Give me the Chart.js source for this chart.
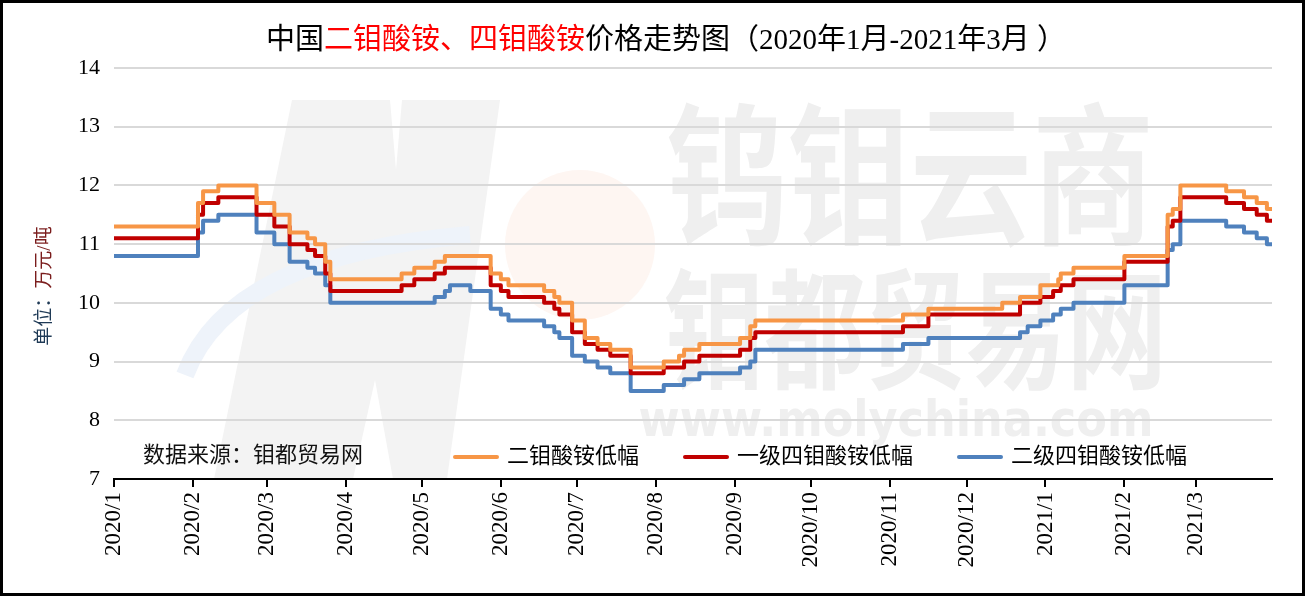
<!DOCTYPE html>
<html>
<head>
<meta charset="utf-8">
<script src="https://cdn.jsdelivr.net/npm/chart.js@4.4.1/dist/chart.umd.min.js"></script>
<style>
  html, body { margin: 0; padding: 0; background: #fff; overflow: hidden; }
  #wrap { width: 1305px; height: 596px; position: relative; }
</style>
</head>
<body>
<div id="wrap"><canvas id="chart"></canvas></div>
<script>
// x axis: month ticks
const monthLabels = ['2020/1', '2020/2', '2020/3', '2020/4', '2020/5', '2020/6', '2020/7', '2020/8',
    '2020/9', '2020/10', '2020/11', '2020/12', '2021/1', '2021/2', '2021/3'];
const monthStarts = ['2020-01-01', '2020-02-01', '2020-03-01', '2020-04-01', '2020-05-01', '2020-06-01',
    '2020-07-01', '2020-08-01', '2020-09-01', '2020-10-01', '2020-11-01', '2020-12-01',
    '2021-01-01', '2021-02-01', '2021-03-01'];
const axisEnd = '2021-03-31';
const yTicks = [7, 8, 9, 10, 11, 12, 13, 14];

// 二钼酸铵低幅 (price change dates and new value, 万元/吨)
const dimolyDates = ['2020-01-01', '2020-02-03', '2020-02-05', '2020-02-11', '2020-02-26', '2020-03-04',
    '2020-03-10', '2020-03-17', '2020-03-20', '2020-03-24', '2020-03-26', '2020-04-23', '2020-04-28',
    '2020-05-06', '2020-05-10', '2020-05-28', '2020-06-01', '2020-06-04', '2020-06-18', '2020-06-22',
    '2020-06-24', '2020-06-29', '2020-07-04', '2020-07-09', '2020-07-14', '2020-07-22', '2020-08-04',
    '2020-08-10', '2020-08-12', '2020-08-18', '2020-09-03', '2020-09-07', '2020-09-09', '2020-11-06',
    '2020-11-16', '2020-12-15', '2020-12-22', '2020-12-30', '2021-01-06', '2021-01-07', '2021-01-12',
    '2021-02-01', '2021-02-18', '2021-02-20', '2021-02-23', '2021-03-13', '2021-03-20', '2021-03-25',
    '2021-03-29', '2021-03-31'];
const dimolyValues = [11.3, 11.7, 11.9, 12.0, 11.7, 11.5,
    11.2, 11.1, 11.0, 10.7, 10.4, 10.5, 10.6,
    10.7, 10.8, 10.5, 10.4, 10.3, 10.2, 10.1,
    10.0, 9.7, 9.4, 9.3, 9.2, 8.9, 9.0,
    9.1, 9.2, 9.3, 9.4, 9.6, 9.7, 9.8,
    9.9, 10.0, 10.1, 10.3, 10.4, 10.5, 10.6,
    10.8, 11.5, 11.6, 12.0, 11.9, 11.8, 11.7,
    11.6, 11.6];

// 一级四钼酸铵低幅
const tetraADates = ['2020-01-01', '2020-02-03', '2020-02-05', '2020-02-11', '2020-02-26', '2020-03-04',
    '2020-03-10', '2020-03-17', '2020-03-20', '2020-03-24', '2020-03-26', '2020-04-23', '2020-04-28',
    '2020-05-06', '2020-05-10', '2020-05-28', '2020-06-01', '2020-06-04', '2020-06-18', '2020-06-22',
    '2020-06-24', '2020-06-29', '2020-07-04', '2020-07-09', '2020-07-14', '2020-07-22', '2020-08-04',
    '2020-08-12', '2020-08-18', '2020-09-03', '2020-09-07', '2020-09-09', '2020-11-06', '2020-11-16',
    '2020-12-22', '2020-12-30', '2021-01-04', '2021-01-07', '2021-01-12', '2021-02-01', '2021-02-18',
    '2021-02-20', '2021-02-23', '2021-03-13', '2021-03-20', '2021-03-25', '2021-03-29', '2021-03-31'];
const tetraAValues = [11.1, 11.5, 11.7, 11.8, 11.5, 11.3,
    11.0, 10.9, 10.8, 10.5, 10.2, 10.3, 10.4,
    10.5, 10.6, 10.3, 10.2, 10.1, 10.0, 9.9,
    9.8, 9.5, 9.3, 9.2, 9.1, 8.8, 8.9,
    9.0, 9.1, 9.2, 9.4, 9.5, 9.6, 9.8,
    10.0, 10.1, 10.2, 10.3, 10.4, 10.7, 11.3,
    11.4, 11.8, 11.7, 11.6, 11.5, 11.4, 11.4];

// 二级四钼酸铵低幅
const tetraBDates = ['2020-01-01', '2020-02-03', '2020-02-05', '2020-02-11', '2020-02-26', '2020-03-04',
    '2020-03-10', '2020-03-17', '2020-03-20', '2020-03-24', '2020-03-26', '2020-05-06', '2020-05-10',
    '2020-05-12', '2020-05-20', '2020-05-28', '2020-06-01', '2020-06-04', '2020-06-18', '2020-06-22',
    '2020-06-24', '2020-06-29', '2020-07-04', '2020-07-09', '2020-07-14', '2020-07-22', '2020-08-04',
    '2020-08-12', '2020-08-18', '2020-09-03', '2020-09-07', '2020-09-09', '2020-11-06', '2020-11-16',
    '2020-12-22', '2020-12-25', '2020-12-30', '2021-01-04', '2021-01-07', '2021-01-12', '2021-02-01',
    '2021-02-18', '2021-02-20', '2021-02-23', '2021-03-13', '2021-03-20', '2021-03-25', '2021-03-29',
    '2021-03-31'];
const tetraBValues = [10.8, 11.2, 11.4, 11.5, 11.2, 11.0,
    10.7, 10.6, 10.5, 10.3, 10.0, 10.1, 10.2,
    10.3, 10.2, 9.9, 9.8, 9.7, 9.6, 9.5,
    9.4, 9.1, 9.0, 8.9, 8.8, 8.5, 8.6,
    8.7, 8.8, 8.9, 9.0, 9.2, 9.3, 9.4,
    9.5, 9.6, 9.7, 9.8, 9.9, 10.0, 10.3,
    10.9, 11.0, 11.4, 11.3, 11.2, 11.1, 11.0,
    11.0];

const SERIF = '"Liberation Serif", "Noto Sans CJK SC", serif';

// days since 2020-01-01
function dayOf(s) {
    const [y, m, d] = s.split('-').map(Number);
    return (Date.UTC(y, m - 1, d) - Date.UTC(2020, 0, 1)) / 86400000;
}

function toPoints(dates, values) {
    return dates.map((d, i) => ({x: dayOf(d), y: values[i]}));
}

// stretch a text into a box (used for the watermark)
function fitText(ctx, text, x1, x2, yTop, yBot, font) {
    ctx.save();
    ctx.font = font;
    const m = ctx.measureText(text);
    const w = m.actualBoundingBoxLeft + m.actualBoundingBoxRight;
    const h = m.actualBoundingBoxAscent + m.actualBoundingBoxDescent;
    ctx.translate(x1, yTop);
    ctx.scale((x2 - x1) / w, (yBot - yTop) / h);
    ctx.textBaseline = 'alphabetic';
    ctx.textAlign = 'left';
    ctx.fillText(text, m.actualBoundingBoxLeft, m.actualBoundingBoxAscent);
    ctx.restore();
}

const decor = {
    id: 'decor',
    beforeDraw(chart) {
        const ctx = chart.ctx;
        ctx.save();
        ctx.fillStyle = '#fff';
        ctx.fillRect(0, 0, chart.width, chart.height);

        // watermark logo
        ctx.fillStyle = '#fef6f2';
        ctx.beginPath();
        ctx.arc(580, 245, 75, 0, Math.PI * 2);
        ctx.fill();

        ctx.fillStyle = '#f3f3f3';
        ctx.beginPath();
        ctx.moveTo(292, 100); ctx.lineTo(390, 100); ctx.lineTo(396, 170); ctx.lineTo(402, 100);
        ctx.lineTo(500, 100); ctx.lineTo(447, 479); ctx.lineTo(393, 479); ctx.lineTo(375, 380);
        ctx.lineTo(353, 479); ctx.lineTo(214, 479);
        ctx.closePath();
        ctx.fill();

        ctx.strokeStyle = '#eef3fa';
        ctx.lineWidth = 18;
        ctx.beginPath();
        ctx.moveTo(185, 375);
        ctx.quadraticCurveTo(230, 255, 470, 235);
        ctx.stroke();

        ctx.fillStyle = '#efefef';
        fitText(ctx, '钨钼云商', 668, 1148, 100, 248, 'bold 120px "Noto Sans CJK SC"');
        fitText(ctx, '钼都贸易网', 665, 1160, 266, 392, 'bold 100px "Noto Sans CJK SC"');
        fitText(ctx, 'www.molychina.com', 640, 1150, 398, 447, 'bold 60px "DejaVu Sans"');
        ctx.restore();
    },
    afterDraw(chart) {
        const ctx = chart.ctx;
        ctx.save();

        // title with red product names
        const parts = [
            ['中国', '#000'],
            ['二钼酸铵、四钼酸铵', '#ff0000'],
            ['价格走势图（2020年1月-2021年3月 ）', '#000']
        ];
        ctx.font = '29px ' + SERIF;
        ctx.textBaseline = 'middle';
        ctx.textAlign = 'left';
        let total = parts.reduce((s, p) => s + ctx.measureText(p[0]).width, 0);
        let x = 666 - total / 2;
        parts.forEach(p => {
            ctx.fillStyle = p[1];
            ctx.fillText(p[0], x, 41);
            x += ctx.measureText(p[0]).width;
        });

        // y axis title
        ctx.save();
        ctx.translate(45, 286);
        ctx.rotate(-Math.PI / 2);
        ctx.font = '19px ' + SERIF;
        const yParts = [['单位：', '#1f3a56'], ['万元/吨', '#7a1c1c']];
        total = yParts.reduce((s, p) => s + ctx.measureText(p[0]).width, 0);
        x = -total / 2;
        yParts.forEach(p => {
            ctx.fillStyle = p[1];
            ctx.fillText(p[0], x, 0);
            x += ctx.measureText(p[0]).width;
        });
        ctx.restore();

        // source note
        ctx.font = '22px ' + SERIF;
        ctx.fillStyle = '#111';
        ctx.fillText('数据来源：钼都贸易网', 143, 456);

        // legend
        let lx = 455;
        chart.data.datasets.forEach(ds => {
            ctx.strokeStyle = ds.borderColor;
            ctx.lineWidth = 4;
            ctx.lineCap = 'round';
            ctx.beginPath();
            ctx.moveTo(lx, 457);
            ctx.lineTo(lx + 42, 457);
            ctx.stroke();
            ctx.fillStyle = '#000';
            ctx.fillText(ds.label, lx + 52, 457);
            lx += 52 + ctx.measureText(ds.label).width + 46;
        });

        // outer frame
        ctx.strokeStyle = '#000';
        ctx.lineWidth = 3;
        ctx.strokeRect(1.5, 1.5, chart.width - 3, chart.height - 3);
        ctx.restore();
    }
};

const lineStyle = {
    borderWidth: 4,
    pointRadius: 0,
    stepped: true,
    fill: false,
    borderCapStyle: 'round',
    borderJoinStyle: 'round'
};

new Chart(document.getElementById('chart'), {
    type: 'line',
    data: {
        datasets: [
            {label: '二钼酸铵低幅', data: toPoints(dimolyDates, dimolyValues), borderColor: '#F79646', ...lineStyle},
            {label: '一级四钼酸铵低幅', data: toPoints(tetraADates, tetraAValues), borderColor: '#C00000', ...lineStyle},
            {label: '二级四钼酸铵低幅', data: toPoints(tetraBDates, tetraBValues), borderColor: '#4F81BD', ...lineStyle}
        ]
    },
    options: {
        responsive: true,
        maintainAspectRatio: false,
        animation: false,
        layout: {padding: {top: 68, right: 33, bottom: 0, left: 0}},
        plugins: {
            legend: {display: false},
            title: {display: false},
            tooltip: {enabled: false}
        },
        scales: {
            x: {
                type: 'linear',
                min: 0,
                max: dayOf(axisEnd),
                afterBuildTicks: s => { s.ticks = monthStarts.map(d => ({value: dayOf(d)})); },
                afterFit: s => { s.height = 117; },
                ticks: {
                    autoSkip: false,
                    minRotation: 90,
                    maxRotation: 90,
                    padding: 5,
                    color: '#000',
                    font: {family: SERIF, size: 23},
                    callback: (v, i) => monthLabels[i]
                },
                grid: {drawOnChartArea: false, drawTicks: true, tickLength: 8, color: '#000', lineWidth: 2},
                border: {display: true, color: '#000', width: 2}
            },
            y: {
                min: yTicks[0],
                max: yTicks[yTicks.length - 1],
                afterBuildTicks: s => { s.ticks = yTicks.map(v => ({value: v})); },
                afterFit: s => { s.width = 114; },
                ticks: {padding: 14, color: '#000', font: {family: SERIF, size: 22}},
                grid: {color: '#d9d9d9', lineWidth: 2, drawTicks: false},
                border: {display: false}
            }
        }
    },
    plugins: [decor]
});
</script>
</body>
</html>
